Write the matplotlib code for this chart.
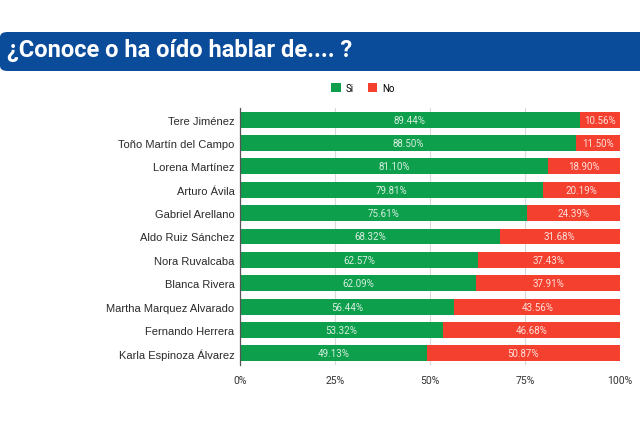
import matplotlib.pyplot as plt
from matplotlib.patches import FancyBboxPatch
import numpy as np

# data
names = ['Tere Jiménez', 'Toño Martín del Campo', 'Lorena Martínez', 'Arturo Ávila',
         'Gabriel Arellano', 'Aldo Ruiz Sánchez', 'Nora Ruvalcaba', 'Blanca Rivera',
         'Martha Marquez Alvarado', 'Fernando Herrera', 'Karla Espinoza Álvarez']
si = [89.44, 88.50, 81.10, 79.81, 75.61, 68.32, 62.57, 62.09, 56.44, 53.32, 49.13]
no = [10.56, 11.50, 18.90, 20.19, 24.39, 31.68, 37.43, 37.91, 43.56, 46.68, 50.87]
xticks = [0, 25, 50, 75, 100]

GREEN = '#0e9f4d'
RED = '#f4412f'
BLUE = '#0b4c9a'

plt.rcParams['font.family'] = ['Roboto', 'DejaVu Sans']

fig = plt.figure(figsize=(6.4, 4.27), dpi=100)

# blue title banner
W, H = 640, 427
banner = FancyBboxPatch((0, 1 - 72 / H), 1.05, 39 / H, transform=fig.transFigure,
                        boxstyle='round,pad=0,rounding_size=0.012',
                        facecolor=BLUE, edgecolor='none', zorder=0)
fig.patches.append(banner)
fig.text(7 / W, 1 - 51 / H, '¿Conoce o ha oído hablar de.... ?', color='white',
         fontsize=17, fontweight='bold', va='center', ha='left')

ax = fig.add_axes([240 / W, 1 - 366 / H, 380 / W, 257 / H])
y = np.arange(len(names))
ax.barh(y, si, height=0.68, color=GREEN, label='Si', zorder=2)
ax.barh(y, no, left=si, height=0.68, color=RED, label='No', zorder=2)

for i in range(len(names)):
    ax.text(si[i] / 2, y[i], f'{si[i]:.2f}%', ha='center', va='center',
            color='#d8efe0', fontsize=7, zorder=3)
    ax.text(si[i] + no[i] / 2, y[i], f'{no[i]:.2f}%', ha='center', va='center',
            color='#fde0db', fontsize=7, zorder=3)

ax.set_ylim(len(names) - 0.5, -0.5)
ax.set_xlim(0, 100)
ax.set_yticks(y)
ax.set_yticklabels(names, fontsize=8, color='#2a2a2a', family='Liberation Sans')
ax.set_xticks(xticks)
ax.set_xticklabels([f'{t}%' for t in xticks], fontsize=7.5, color='#333333')
ax.tick_params(length=0, pad=7)
ax.tick_params(axis='y', pad=4)
for s in ['top', 'right', 'bottom']:
    ax.spines[s].set_visible(False)
ax.spines['left'].set_color('#555555')
ax.spines['left'].set_linewidth(0.9)
ax.grid(axis='x', color='#d9d9d9', linewidth=0.8, zorder=0)
ax.set_axisbelow(True)

fig.legend(loc='center', bbox_to_anchor=(363 / W, 1 - 89 / H), ncol=2, frameon=False,
           fontsize=7, handlelength=1.0, handleheight=1.0, columnspacing=1.4,
           handletextpad=0.5)

fig.savefig('out.png', dpi=100, facecolor='white')
